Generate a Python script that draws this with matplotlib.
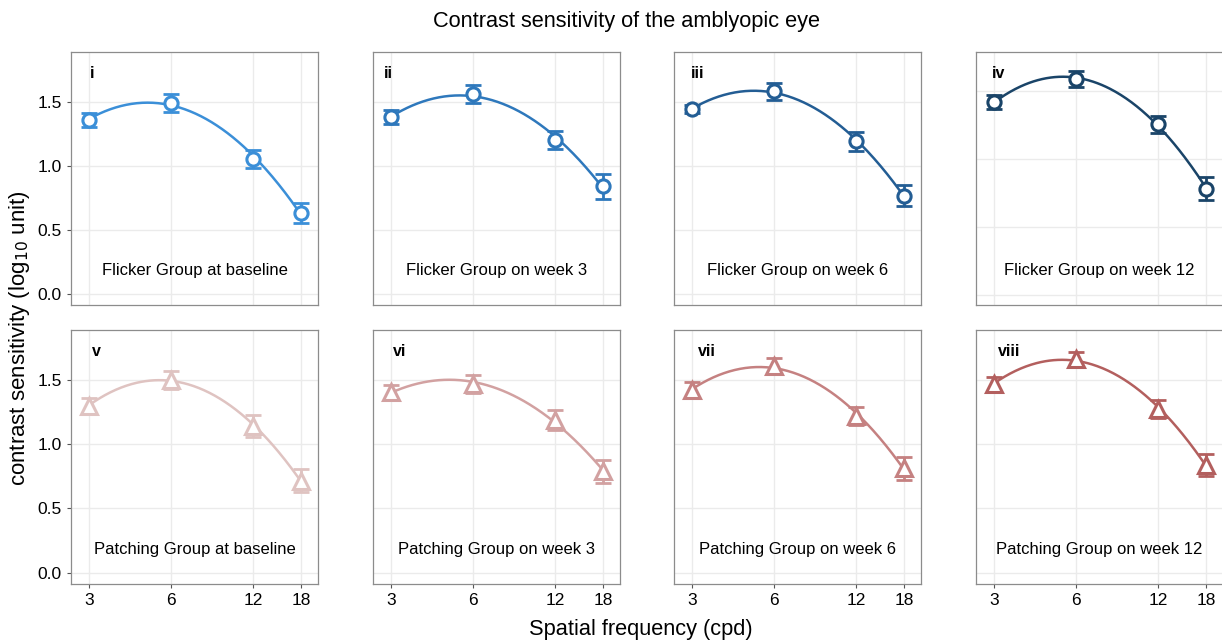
import numpy as np
import matplotlib
matplotlib.use("Agg")
from matplotlib import pyplot as plt
from matplotlib.ticker import FixedLocator, NullLocator

plt.rcParams['font.family'] = ['Liberation Sans', 'DejaVu Sans']

freq = [3, 6, 12, 18]
panel_ids = ["i", "ii", "iii", "iv", "v", "vi", "vii", "viii"]
titles = ["Flicker Group at baseline", "Flicker Group on week 3",
          "Flicker Group on week 6", "Flicker Group on week 12",
          "Patching Group at baseline", "Patching Group on week 3",
          "Patching Group on week 6", "Patching Group on week 12"]

# mean contrast sensitivity (log10 unit) and error bar half width
cs_flicker = [[1.36, 1.49, 1.055, 0.63],
              [1.377, 1.562, 1.203, 0.838],
              [1.443, 1.58, 1.19, 0.766],
              [1.421, 1.593, 1.257, 0.784]]
err_flicker = [[0.055, 0.07, 0.07, 0.078],
               [0.055, 0.07, 0.07, 0.098],
               [0.033, 0.068, 0.075, 0.08],
               [0.051, 0.059, 0.061, 0.082]]
cs_patching = [[1.30, 1.50, 1.142, 0.715],
               [1.404, 1.468, 1.189, 0.787],
               [1.422, 1.608, 1.22, 0.813],
               [1.468, 1.66, 1.272, 0.839]]
err_patching = [[0.06, 0.068, 0.087, 0.09],
                [0.054, 0.07, 0.08, 0.093],
                [0.058, 0.065, 0.07, 0.09],
                [0.056, 0.057, 0.072, 0.087]]

colors_flicker = ["#3b8fd8", "#2e78bc", "#235d94", "#1a4468"]
colors_patching = ["#dfc3c1", "#d2a1a1", "#c58181", "#b35f5e"]

fig = plt.figure(figsize=(12.22, 6.4), dpi=100)

lefts = [0.0581, 0.3052, 0.5516, 0.7987]
label_dx = [0.075, 0.045, 0.07, 0.065, 0.085, 0.08, 0.095, 0.09]

xfine = np.exp(np.linspace(np.log(3), np.log(18), 200))

for k in range(8):
    row, col = divmod(k, 4)
    if row == 0:
        ax = fig.add_axes([lefts[col], 0.5234, 0.2021, 0.3953])
        y, e, c, mk, ms = cs_flicker[col], err_flicker[col], colors_flicker[col], "o", 9.5
    else:
        ax = fig.add_axes([lefts[col], 0.0875, 0.2021, 0.397])
        y, e, c, mk, ms = cs_patching[col], err_patching[col], colors_patching[col], "^", 12

    # quadratic fit in log frequency
    p = np.polyfit(np.log(freq), y, 2)
    ax.plot(xfine, np.polyval(p, np.log(xfine)), color=c, lw=1.8, zorder=3)
    ax.errorbar(freq, y, yerr=e, fmt="none", ecolor=c, elinewidth=2,
                capsize=5.5, capthick=2, zorder=4)
    ax.plot(freq, y, mk, ms=ms, mfc="white", mec=c, mew=2.2, zorder=5)

    ax.set_xscale("log")
    ax.set_xlim(2.576, 20.78)
    if k == 3:
        ax.set_ylim(-0.074, 1.79)
    else:
        ax.set_ylim(-0.088, 1.888)
    ax.xaxis.set_major_locator(FixedLocator(freq))
    ax.xaxis.set_minor_locator(NullLocator())
    ax.set_yticks([0.0, 0.5, 1.0, 1.5])
    ax.grid(True, color="#ebebeb", lw=1)
    ax.set_axisbelow(True)
    for s in ax.spines.values():
        s.set_color("#8c8c8c")
        s.set_linewidth(0.9)
    ax.tick_params(colors="#555555", labelcolor="black", labelsize=12.5, length=3)
    if row == 1:
        ax.set_xticklabels([str(f) for f in freq])
    else:
        ax.set_xticklabels([])
        ax.tick_params(axis="x", length=0)
    if col == 0:
        ax.set_yticklabels(["0.0", "0.5", "1.0", "1.5"])
    else:
        ax.set_yticklabels([])
        ax.tick_params(axis="y", length=0)

    ax.text(label_dx[k], 0.915, panel_ids[k], transform=ax.transAxes,
            fontsize=11.5, fontweight="bold", ha="left", va="center")
    ax.text(0.5, 0.135, titles[k], transform=ax.transAxes,
            fontsize=12, ha="center", va="center")

fig.text(0.513, 0.967, "Contrast sensitivity of the amblyopic eye",
         fontsize=15.7, ha="center", va="center")
fig.text(0.524, 0.016, "Spatial frequency (cpd)", fontsize=15.7,
         ha="center", va="center")
fig.text(0.016, 0.472, r"contrast sensitivity (log$_{10}$ unit)", fontsize=16,
         ha="center", va="center", rotation=90)

fig.savefig("out.png", dpi=100)
